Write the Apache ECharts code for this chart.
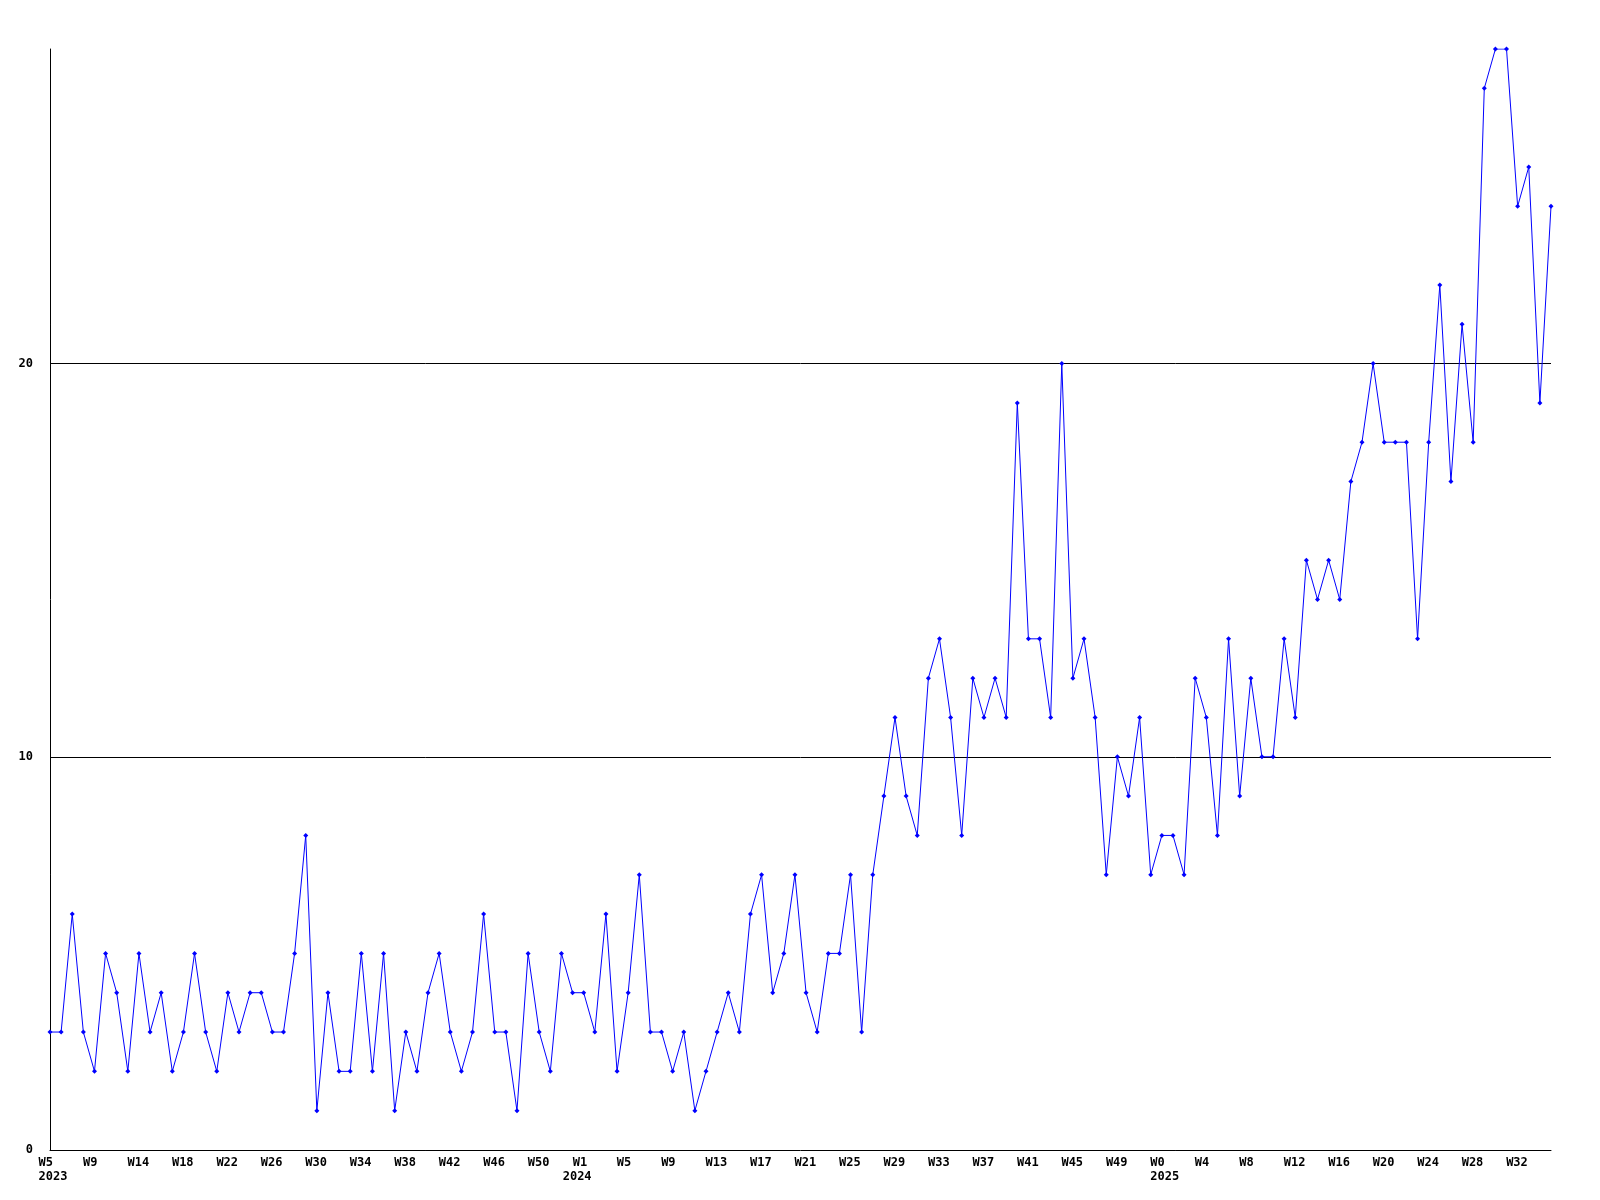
<!DOCTYPE html>
<html>
<head>
<meta charset="utf-8">
<script src="https://cdn.jsdelivr.net/npm/echarts@6/dist/echarts.min.js"></script>
<style>
html,body{margin:0;padding:0;background:#fff;}
#chart{width:1600px;height:1200px;}
</style>
</head>
<body>
<div id="chart"></div>
<script>
// Weekly values, 2023 W5 .. 2025 (136 weeks)
const values2023 = [3,3,6,3,2,5,4,2,5,3,4,2,3,5,3,2,4,3,4,4,3,3,5,8,1,4,2,2,5,2,5,1,3,2,4,5,3,2,3,6,3,3,1,5,3,2,5,4];
const values2024 = [4,3,6,2,4,7,3,3,2,3,1,2,3,4,3,6,7,4,5,7,4,3,5,5,7,3,7,9,11,9,8,12,13,11,8,12,11,12,11,19,13,13,11,20,12,13,11,7,10,9,11,7];
const values2025 = [8,8,7,12,11,8,13,9,12,10,10,13,11,15,14,15,14,17,18,20,18,18,18,13,18,22,17,21,18,27,28,28,24,25,19,24];

// x-axis tick labels: one every 4 weeks
const weekTicks = ['W5','W9','W14','W18','W22','W26','W30','W34','W38','W42','W46','W50',
  'W1','W5','W9','W13','W17','W21','W25','W29','W33','W37','W41','W45','W49',
  'W0','W4','W8','W12','W16','W20','W24','W28','W32'];
const yearTicks = {0:'2023', 12:'2024', 25:'2025'};
const yTicks = [0, 10, 20];

const values = values2023.concat(values2024, values2025);
const categories = values.map((v, i) => String(i));

const chart = echarts.init(document.getElementById('chart'), null, {renderer: 'canvas'});
const labelFont = {fontFamily: 'DejaVu Sans Mono', fontSize: 12, fontWeight: 'bold', color: '#000'};

function tok(name, text) { return '{' + name + '|' + text + '}'; }

chart.setOption({
  animation: false,
  backgroundColor: '#ffffff',
  grid: {left: 50, right: 49, top: 49, bottom: 50, containLabel: false},
  xAxis: {
    type: 'category',
    data: categories,
    boundaryGap: false,
    axisLine: {show: true, lineStyle: {color: '#000', width: 1}},
    axisTick: {show: false},
    splitLine: {show: false},
    axisLabel: {
      interval: 3,
      margin: 6,
      align: 'center',
      formatter: function (val, idx) {
        const k = idx / 4;
        if (idx % 4 !== 0 || k >= weekTicks.length) return '';
        if (k === 12) {
          // 2024 year label sits further left than its week label
          return tok('p10', ' ') + tok('w', weekTicks[k]) + tok('p9', ' ') + '\n' +
                 tok('w', yearTicks[k]) + tok('p19', ' ');
        }
        let s = tok('w', weekTicks[k]);
        if (yearTicks[k]) s += '\n' + tok('w', yearTicks[k]);
        return s;
      },
      rich: {
        w: Object.assign({width: 23, align: 'left', lineHeight: 14}, labelFont),
        p10: Object.assign({width: 10, align: 'left', lineHeight: 14}, labelFont),
        p9: Object.assign({width: 9, align: 'left', lineHeight: 14}, labelFont),
        p19: Object.assign({width: 19, align: 'left', lineHeight: 14}, labelFont)
      }
    }
  },
  yAxis: {
    type: 'value',
    min: 0,
    max: 28,
    interval: 10,
    axisLine: {show: true, lineStyle: {color: '#000', width: 1}},
    axisTick: {show: false},
    splitLine: {show: true, showMinLine: false, showMaxLine: false, lineStyle: {color: '#000', width: 1}},
    axisLabel: Object.assign({
      margin: 17,
      showMaxLabel: false,
      formatter: function (v) { return yTicks.indexOf(v) >= 0 ? String(v) : ''; }
    }, labelFont)
  },
  series: [{
    type: 'line',
    data: values,
    symbol: 'diamond',
    symbolSize: 5,
    showAllSymbol: true,
    lineStyle: {color: '#0000ff', width: 1},
    itemStyle: {color: '#0000ff'},
    emphasis: {disabled: true}
  }]
});
</script>
</body>
</html>
